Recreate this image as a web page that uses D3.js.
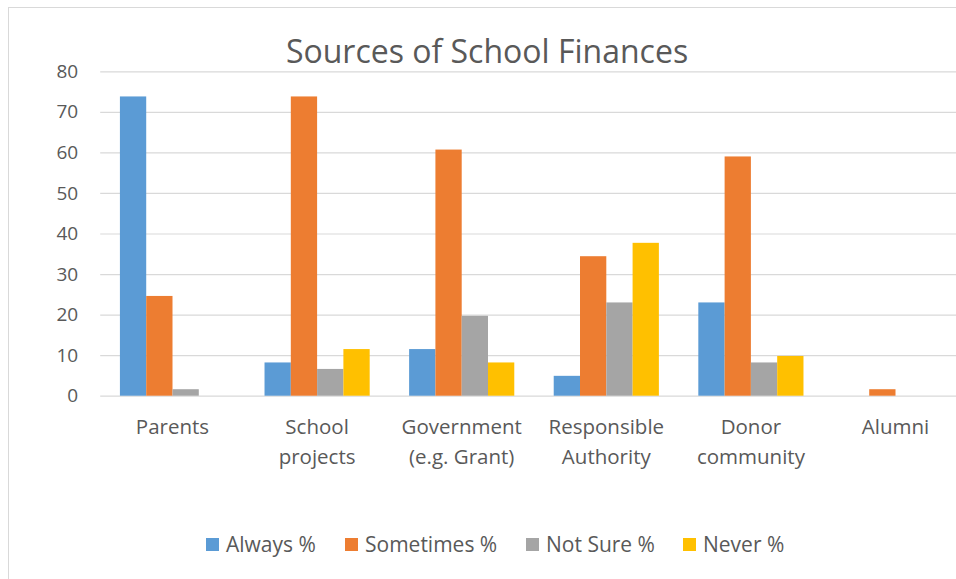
<!DOCTYPE html>
<html><head><meta charset="utf-8">
<script src="https://cdn.jsdelivr.net/npm/d3@7/dist/d3.min.js"></script>
<style>body{margin:0;background:#fff}svg{display:block;font-family:"Open Sans",sans-serif}</style>
</head><body><svg id="c" width="956" height="579"></svg>
<script>
const categories = [["Parents"],["School","projects"],["Government","(e.g. Grant)"],["Responsible","Authority"],["Donor","community"],["Alumni"]];
const seriesNames = ["Always %","Sometimes %","Not Sure %","Never %"];
const always    = [73.8, 8.2, 11.5, 4.9, 23.0, 0];
const sometimes = [24.6, 73.8, 60.7, 34.4, 59.0, 1.6];
const notSure   = [1.6, 6.6, 19.7, 23.0, 8.2, 0];
const never     = [0, 11.5, 8.2, 37.7, 9.8, 0];
const yTicks = [0,10,20,30,40,50,60,70,80];
const colors = ["#5b9bd5","#ed7d31","#a5a5a5","#ffc000"];
const series = [always, sometimes, notSure, never];

(function(){
const svg = d3.select("#c");
svg.append("rect").attr("x",8.5).attr("y",7.5).attr("width",1000).attr("height",1000)
  .attr("fill","#fff").attr("stroke","#d9d9d9").attr("stroke-width",1);

const plotLeft = 100.2, step = 144.6, plotTop = 71.3, plotBottom = 395.7;
const x0 = d3.scaleBand().domain(d3.range(categories.length))
  .range([plotLeft, plotLeft + step*categories.length])
  .paddingInner(1.5/5.5).paddingOuter(0.75/5.5);
const x1 = d3.scaleBand().domain(d3.range(4)).range([0, x0.bandwidth()]);
const y = d3.scaleLinear().domain([0,80]).range([plotBottom, plotTop]);

const yAxis = d3.axisLeft(y).tickValues(yTicks).tickSize(-(step*categories.length)).tickPadding(22);
const ga = svg.append("g").attr("transform",`translate(${plotLeft},0)`).call(yAxis);
ga.select(".domain").remove();
ga.selectAll(".tick line").attr("stroke","#d9d9d9").attr("stroke-width",1.2);
ga.selectAll(".tick text").attr("fill","#595959").attr("font-size",19).attr("font-family","Open Sans, sans-serif");

series.forEach((vals,si)=>{
  svg.append("g").selectAll("rect").data(vals).join("rect")
    .attr("x",(d,i)=>x0(i)+x1(si))
    .attr("width",x1.bandwidth())
    .attr("y",d=>y(d))
    .attr("height",d=>plotBottom-y(d))
    .attr("fill",colors[si]);
});

const xl = svg.append("g");
categories.forEach((lines,i)=>{
  const cx = x0(i)+x0.bandwidth()/2;
  const t = xl.append("text").attr("x",cx).attr("y",434)
    .attr("text-anchor","middle").attr("fill","#595959").attr("font-size",20.5);
  lines.forEach((l,j)=>t.append("tspan").attr("x",cx).attr("dy",j?30:0).text(l));
});

svg.append("text").attr("x",487).attr("y",63).attr("text-anchor","middle")
  .attr("fill","#595959").attr("font-size",32).text("Sources of School Finances");

const legX = [206,345,526,683];
const lg = svg.append("g");
seriesNames.forEach((n,i)=>{
  lg.append("rect").attr("x",legX[i]).attr("y",538).attr("width",13).attr("height",13).attr("fill",colors[i]);
  lg.append("text").attr("x",legX[i]+20).attr("y",552).attr("fill","#595959").attr("font-size",21).text(n);
});
})();
</script></body></html>
